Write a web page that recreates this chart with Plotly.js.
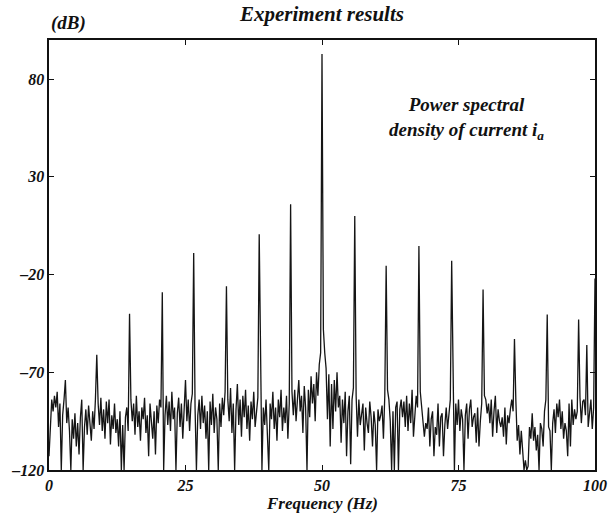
<!DOCTYPE html>
<html>
<head>
<meta charset="utf-8">
<script src="https://cdn.plot.ly/plotly-3.0.1.min.js"></script>
<style>html,body{margin:0;padding:0;background:#fff;}#chart{width:609px;height:513px;}</style>
</head>
<body>
<div id="chart"></div>
<script>
// Frequency resolution of the spectrum (Hz per bin), bins from 0 to 100 Hz
const binWidth = 0.25;
// Power spectral density of current i_a (dB), one value per bin
const psd = [
-113,-95,-84,-90,   -82,-88,-80,-98,   -86,-120,-92,-84,  -74,-96,-88,-100,
-120,-94,-104,-91,  -108,-96,-112,-93, -84,-120,-98,-89,  -102,-87,-96,-105,
-90,-99,-84,-61,    -86,-97,-83,-100,  -89,-104,-85,-96,  -84,-107,-92,-99,
-86,-101,-94,-108,  -90,-120,-97,-120, -93,-88,-100,-40,  -84,-95,-86,-102,
-82,-98,-90,-105,   -88,-94,-83,-101,  -92,-113,-86,-98,  -104,-90,-112,-87,
-96,-84,-88,-29,    -120,-92,-82,-97,  -85,-100,-80,-94,  -88,-120,-91,-83,
-98,-86,-104,-89,   -74,-95,-84,-100,  -86,-81,-9,-88,    -120,-92,-84,-99,
-82,-96,-87,-104,   -90,-120,-85,-97,  -81,-101,-88,-94,  -120,-86,-98,-83,
-92,-80,-26,-84,    -95,-78,-101,-86,  -120,-89,-76,-97,  -84,-103,-82,-93,
-79,-99,-87,-105,   -85,-94,-80,-98,   -90,-83,0.6,-82,   -120,-88,-97,-84,
-101,-120,-86,-94,  -80,-99,-88,-105,  -84,-93,-79,-100,  -88,-96,-82,-104,
-86,16,-80,-92,     -79,-95,-84,-74,   -90,-82,-101,-77,  -88,-120,-79,-93,
-72,-86,-76,-95,    -70,-82,-66,-60,   92.8,-48,-60,-68,  -94,-71,-108,-76,
-99,-74,-90,-70,    -88,-82,-106,-84,  -96,-80,-113,-90,  -82,-117,-84,-78,
10,-82,-103,-84,    -97,-90,-86,-110,  -88,-96,-101,-85,  -93,-108,-90,-97,
-120,-89,-95,-92,   -87,-104,-82,-15.5,-79,-84,-95,-120,  -90,-120,-88,-85,
-120,-89,-84,-93,   -85,-98,-82,-100,  -86,-96,-79,-103,  -90,-82,-88,-5.4,
-80,-88,-93,-103,   -96,-99,-88,-108,  -94,-90,-113,-98,  -102,-86,-108,-93,
-91,-113,-97,-88,   -99,-90,-84,-13,   -71,-120,-86,-97,  -84,-100,-89,-94,
-120,-92,-86,-104,  -89,-84,-98,-93,   -91,-106,-88,-108, -95,-86,-27.6,-82,
-84,-91,-86,-96,    -84,-103,-90,-82,  -101,-89,-95,-98,  -93,-103,-88,-107,
-92,-96,-89,-84,    -90,-53,-84,-105,  -97,-112,-100,-108,-120,-115,-120,-118,
-98,-104,-91,-105,  -98,-110,-102,-120,-96,-99,-108,-90,  -84,-40.5,-98,-100,
-120,-96,-89,-101,  -86,-93,-84,-99,   -90,-104,-96,-100, -113,-86,-108,-84,
-97,-89,-94,-90,    -43,-83,-96,-85,   -84,-92,-56,-98,   -91,-84,-99,-88,
-22
];
const freq = psd.map((_, i) => i * binWidth);

const xTicks = [0, 25, 50, 75, 100];
const yTicks = [-120, -70, -20, 30, 80];
const unitLabel = '(dB)';

const serif = 'Liberation Serif, Times New Roman, serif';
const tickFont = {family: serif, size: 16, color: '#111', weight: 'bold', style: 'italic'};

const trace = {
  x: freq, y: psd, type: 'scatter', mode: 'lines',
  line: {color: '#151515', width: 1.3},
  hoverinfo: 'skip'
};

const axisCommon = {
  showgrid: false, zeroline: false, showline: true, linecolor: '#111', linewidth: 1.6,
  mirror: 'ticks', ticks: 'inside', ticklen: 5, tickwidth: 1, tickcolor: '#111',
  tickfont: tickFont, fixedrange: true
};

const layout = {
  width: 609, height: 513,
  margin: {l: 49, r: 14, t: 40, b: 43},
  paper_bgcolor: '#fff', plot_bgcolor: '#fff',
  showlegend: false,
  title: {
    text: 'Experiment results',
    font: {family: serif, size: 21, color: '#111', weight: 'bold', style: 'italic'},
    x: 0.5, xref: 'paper', xanchor: 'center',
    y: 1 - 14 / 513, yref: 'container', yanchor: 'middle'
  },
  xaxis: Object.assign({}, axisCommon, {
    range: [0, 100], tickvals: xTicks, ticktext: xTicks.map(String)
  }),
  yaxis: Object.assign({}, axisCommon, {
    range: [-120, 100], tickvals: yTicks, ticktext: yTicks.map(v => v < 0 ? '\u2013' + Math.abs(v) : String(v))
  }),
  annotations: [
    {
      text: '<b><i>' + unitLabel + '</i></b>', xref: 'paper', yref: 'paper', x: 0, y: 1.0,
      xanchor: 'left', yanchor: 'bottom', xshift: 0, yshift: 4, showarrow: false,
      font: {family: serif, size: 19, color: '#111'}
    },
    {
      text: 'Frequency (Hz)', xref: 'paper', yref: 'paper', x: 0.5, y: -33 / 430,
      xanchor: 'center', yanchor: 'middle', showarrow: false,
      font: {family: serif, size: 17, color: '#111', weight: 'bold', style: 'italic'}
    },
    {
      text: 'Power spectral<br>density of current i<sub>a</sub>', xref: 'x', yref: 'y',
      x: 76.5, y: 60, xanchor: 'center', yanchor: 'middle', align: 'center', showarrow: false,
      font: {family: serif, size: 19, color: '#111', weight: 'bold', style: 'italic'}
    }
  ]
};

Plotly.newPlot('chart', [trace], layout, {displayModeBar: false, staticPlot: true});
</script>
</body>
</html>
